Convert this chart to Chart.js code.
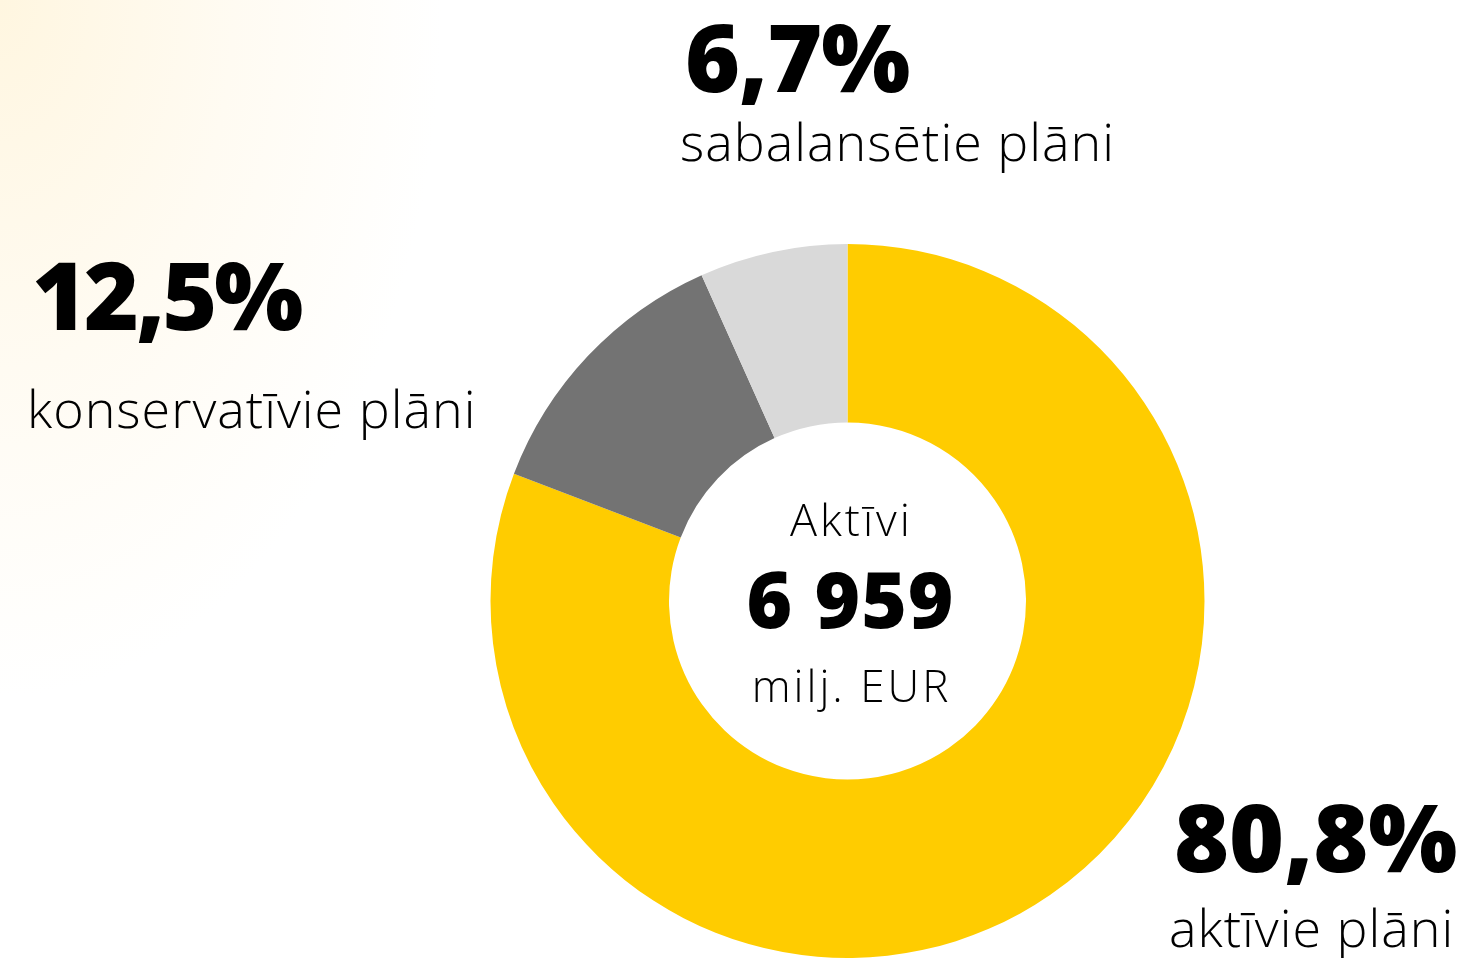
<!DOCTYPE html>
<html>
<head>
<meta charset="utf-8">
<script src="https://cdn.jsdelivr.net/npm/chart.js@4"></script>
<style>
  html, body { margin: 0; padding: 0; overflow: hidden; }
  body {
    width: 1475px; height: 958px;
    background: radial-gradient(ellipse 520px 820px at 0 0, #fff6e0 0%, #fffbf2 45%, #ffffff 85%);
  }
  #wrap { position: absolute; left: 0; top: 0; width: 1475px; height: 958px; }
</style>
</head>
<body>
<div id="wrap"><canvas id="donut"></canvas></div>
<script>
// Data
const categories = ['aktīvie plāni', 'konservatīvie plāni', 'sabalansētie plāni'];
const shares = [80.8, 12.5, 6.7];
const shareLabels = ['80,8%', '12,5%', '6,7%'];
const sliceColors = ['#ffcc00', '#737373', '#d9d9d9'];
const centerTitle = 'Aktīvi';
const centerValue = '6 959';
const centerUnit = 'milj. EUR';

const BOLD = '800 94px "Open Sans"';
const REG = '300 52px "Open Sans"';

// where each label block sits: [left, baseline of percent, baseline of name, percent letter spacing]
const labelSpots = [
    [1174, 872, 947, '0px'],
    [32, 330, 428, '-3px'],
    [685, 92, 161, '-1px']
];

const labelPlugin = {
    id: 'labels',
    afterDraw(chart) {
        const ctx = chart.ctx;
        ctx.save();
        ctx.fillStyle = '#000';
        ctx.textBaseline = 'alphabetic';
        ctx.textAlign = 'left';
        categories.forEach((name, i) => {
            const [x, yPct, yName, ls] = labelSpots[i];
            ctx.font = BOLD;
            ctx.letterSpacing = ls;
            ctx.fillText(shareLabels[i], x, yPct);
            ctx.font = REG;
            ctx.letterSpacing = '1px';
            ctx.fillText(name, x - 5, yName);
        });
        // centre text
        const meta = chart.getDatasetMeta(0).data[0];
        const cx = meta.x + 3;
        ctx.textAlign = 'center';
        ctx.font = '300 45px "Open Sans"';
        ctx.letterSpacing = '3px';
        ctx.fillText(centerTitle, cx + 1, 536);
        ctx.font = '800 78px "Open Sans"';
        ctx.letterSpacing = '1px';
        ctx.fillText(centerValue, cx, 628);
        ctx.font = '300 44px "Open Sans"';
        ctx.letterSpacing = '3px';
        ctx.fillText(centerUnit, cx + 1, 702);
        ctx.restore();
    }
};

function renderDonut() {
    const ctx = document.getElementById('donut').getContext('2d');
    new Chart(ctx, {
        type: 'doughnut',
        data: {
            labels: categories,
            datasets: [{
                data: shares,
                backgroundColor: sliceColors,
                borderWidth: 0,
                hoverOffset: 0
            }]
        },
        options: {
            responsive: true,
            maintainAspectRatio: false,
            animation: false,
            cutout: '50%',
            layout: { padding: { left: 488, right: 268, top: 244, bottom: -4 } },
            plugins: {
                legend: { display: false },
                tooltip: { enabled: false }
            }
        },
        plugins: [labelPlugin]
    });
}

Promise.all([
    document.fonts.load('800 94px "Open Sans"'),
    document.fonts.load('300 52px "Open Sans"')
]).then(renderDonut, renderDonut);
</script>
</body>
</html>
